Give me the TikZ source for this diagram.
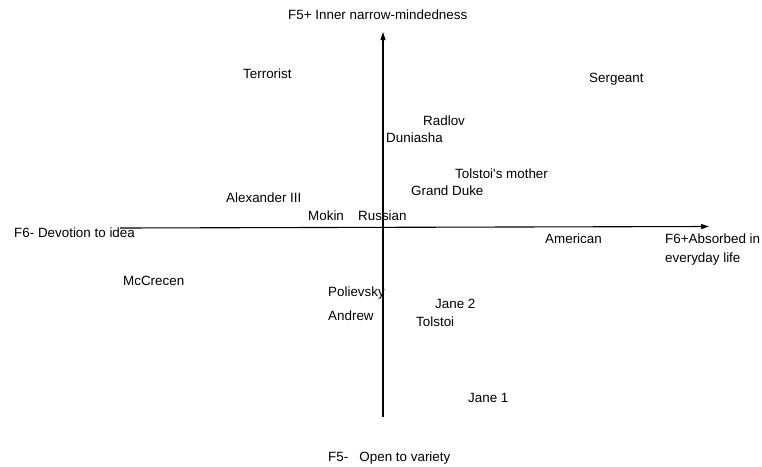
\documentclass[tikz,border=0pt]{standalone}
\usepackage{fontspec}
\setmainfont{Liberation Sans}
\usepackage{tikz}
\usetikzlibrary{arrows.meta}

\begin{document}
\begin{tikzpicture}[x=1pt,y=-1pt,
		lbl/.style={anchor=west,inner sep=0pt,font=\fontsize{13.4}{16}\selectfont},
		axis/.style={line width=1.1pt,-{Triangle[length=8pt,width=5pt]}}]
			\useasboundingbox (0,0) rectangle (762,466);
			\coordinate (xl) at (120,228);
			\coordinate (xr) at (709,226.5);
			\coordinate (yb) at (383,417);
			\coordinate (yt) at (383,32);
			\draw[axis] (xl) -- (xr);
			\draw[axis] (yb) -- (yt);
			\node[lbl] (fplus) at (288,15) {F5+ Inner narrow-mindedness};
			\node[lbl] (fminus) at (328,458) {F5-\ \ \ Open to variety};
			\node[lbl] (gminus) at (14,233) {F6- Devotion to idea};
			\node[lbl] (gplus) at (665,239) {F6+Absorbed in};
			\node[lbl] (gplus2) at (665,259) {everyday life};
			\node[lbl] (terrorist) at (243,74) {Terrorist};
			\node[lbl] (sergeant) at (589,79) {Sergeant};
			\node[lbl] (radlov) at (423,121) {Radlov};
			\node[lbl] (duniasha) at (386,138) {Duniasha};
			\node[lbl] (tmother) at (455,174) {Tolstoi\textquotesingle s mother};
			\node[lbl] (duke) at (411,191) {Grand Duke};
			\node[lbl] (alex) at (226,198) {Alexander III};
			\node[lbl] (mokin) at (308,216) {Mokin};
			\node[lbl] (russian) at (358,216) {Russian};
			\node[lbl] (american) at (545,239) {American};
			\node[lbl] (mccrecen) at (123,281) {McCrecen};
			\node[lbl] (polievsky) at (328,293) {Polievsky};
			\node[lbl] (andrew) at (328,316) {Andrew};
			\node[lbl] (janetwo) at (435,304) {Jane 2};
			\node[lbl] (tolstoi) at (416,322) {Tolstoi};
			\node[lbl] (janeone) at (468,398) {Jane 1};
		\end{tikzpicture}
\end{document}
